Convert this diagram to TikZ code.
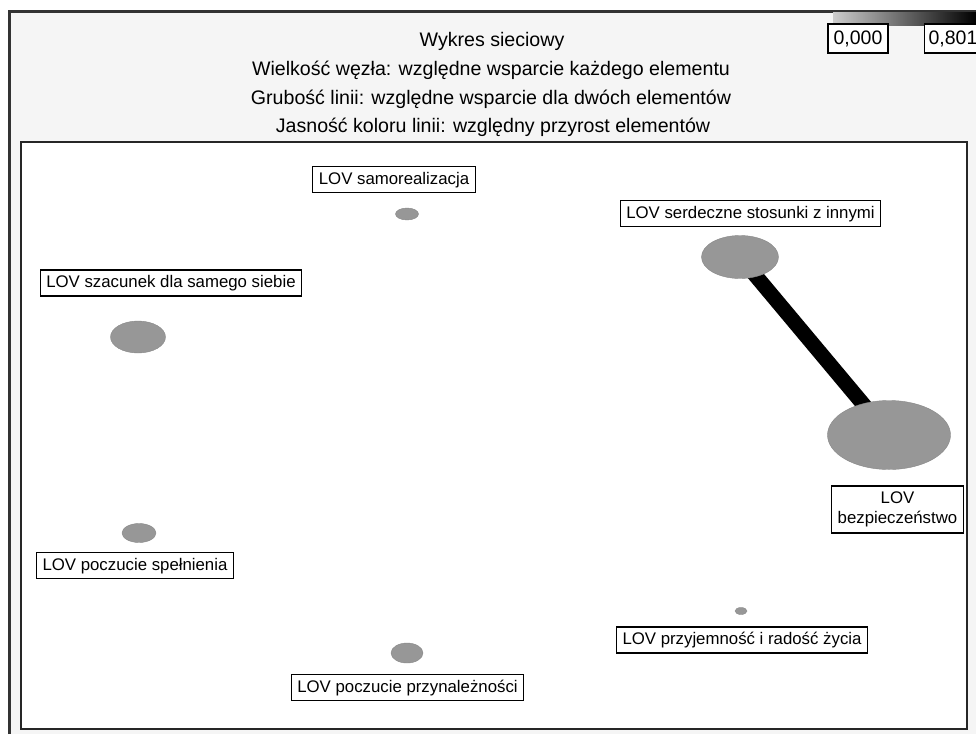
\documentclass[tikz,border=0pt]{standalone}
\usepackage{fontspec}
\setmainfont{Liberation Sans}
\usetikzlibrary{shapes.geometric}
\pgfdeclarelayer{bg}
\pgfdeclarelayer{edges}
\pgfsetlayers{bg,edges,main}
\definecolor{hdr}{HTML}{F5F5F5}
\definecolor{nodegray}{HTML}{979797}
\begin{document}
\begin{tikzpicture}[x=1pt,y=-1pt,
  lbl/.style={draw=black, line width=1.1pt, fill=white, font=\fontsize{16.8}{20}\selectfont,
    inner xsep=6pt, inner ysep=0pt, minimum height=26pt, text height=12.5pt, text depth=3.5pt},
  itm/.style={ellipse, fill=nodegray, draw=nodegray!90!black, line width=0.4pt, inner sep=0pt},
  ttl/.style={font=\fontsize{19.6}{23}\selectfont, anchor=base},
  lgd/.style={draw=black, line width=1.1pt, fill=white, font=\fontsize{19.5}{23}\selectfont,
    inner xsep=4pt, inner ysep=0pt, minimum height=29pt, text height=14pt, text depth=3pt},
  edge/.style={line width=15pt, black}]
\useasboundingbox (0,0) rectangle (976,734);
\begin{pgfonlayer}{bg}
  \fill[hdr] (11,12) rectangle (976,734);
  \draw[line width=3pt, black!80] (9.5,734) -- (9.5,11) -- (976,11);
  \shade[left color=black!20, middle color=black!75, right color=black] (833,12.5) rectangle (976,25);
  \fill[white] (21,142) rectangle (967,729);
  \draw[line width=1.5pt, black!85] (21,142) rectangle (967,729);
\end{pgfonlayer}
% title
\node[ttl] (t1) at (492,46) {Wykres sieciowy};
\node[ttl] (t2) at (491,75) {Wielkość węzła: względne wsparcie każdego elementu};
\node[ttl] (t3) at (491,104) {Grubość linii: względne wsparcie dla dwóch elementów};
\node[ttl] (t4) at (493,132) {Jasność koloru linii: względny przyrost elementów};
% legend
\node[lgd, minimum width=60pt] (l0) at (858,38.5) {0,000};
\node[lgd, anchor=west] (l1) at (924,38.5) {0,801};
% items
\node[itm, minimum width=23pt, minimum height=12pt] (samoE) at (407,214) {};
\node[itm, minimum width=55pt, minimum height=32pt] (szacE) at (138,337) {};
\node[itm, minimum width=77pt, minimum height=43pt] (serdE) at (740,257) {};
\node[itm, minimum width=123pt, minimum height=69pt] (bezpE) at (889,435) {};
\node[itm, minimum width=34pt, minimum height=19pt] (spelE) at (139,533) {};
\node[itm, minimum width=32pt, minimum height=20pt] (przynE) at (407,653) {};
\node[itm, minimum width=12pt, minimum height=7pt] (przyjE) at (741,611) {};
% labels
\node[lbl] (samoL) at (394,179.5) {LOV samorealizacja};
\node[lbl] (szacL) at (171,283) {LOV szacunek dla samego siebie};
\node[lbl] (serdL) at (750.5,213.5) {LOV serdeczne stosunki z innymi};
\node[lbl, align=center, text height=, text depth=, inner ysep=3pt, minimum height=47pt,
  font=\fontsize{16.8}{20.5}\selectfont] (bezpL) at (897.5,509.5) {LOV\\bezpieczeństwo};
\node[lbl] (spelL) at (135,565.5) {LOV poczucie spełnienia};
\node[lbl] (przynL) at (407.5,687.5) {LOV poczucie przynależności};
\node[lbl] (przyjL) at (742,640) {LOV przyjemność i radość życia};
% edge
\begin{pgfonlayer}{edges}
  \draw[edge] (serdE.center) -- (bezpE.center);
\end{pgfonlayer}
\end{tikzpicture}
\end{document}
